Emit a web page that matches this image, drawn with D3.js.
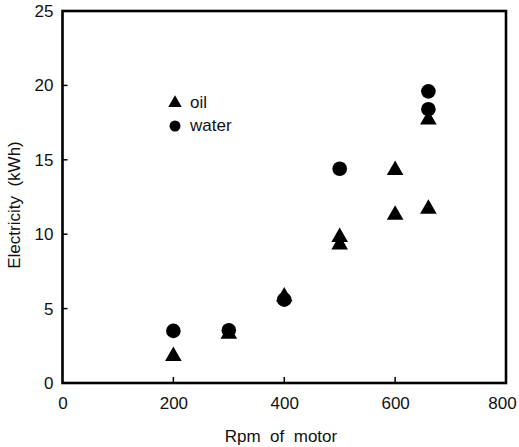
<!DOCTYPE html>
<html>
<head>
<meta charset="utf-8">
<script src="https://cdn.jsdelivr.net/npm/d3@7"></script>
<style>
  html, body { margin: 0; padding: 0; background: #fff; }
  svg { display: block; }
  text { font-family: "Liberation Sans", Arial, Helvetica, sans-serif; fill: #111; }
</style>
</head>
<body>
<svg id="chart" width="519" height="447"></svg>
<script>
// Electricity use vs. motor speed, two coolant types
const oilRpm   = [200, 300, 400, 500, 500, 600, 600, 660, 660];
const oilKwh   = [1.8, 3.3, 5.8, 9.3, 9.8, 14.3, 11.3, 17.7, 11.7];
const waterRpm = [200, 300, 400, 500, 660, 660];
const waterKwh = [3.5, 3.55, 5.6, 14.4, 19.6, 18.4];
const xTicks = [0, 200, 400, 600, 800];
const yTicks = [0, 5, 10, 15, 20, 25];
const seriesNames = ["oil", "water"];

const svg = d3.select("#chart");
const m = { left: 62.5, right: 506, top: 11, bottom: 383 };

const x = d3.scaleLinear().domain([0, 800]).range([m.left, m.right]);
const y = d3.scaleLinear().domain([0, 25]).range([m.bottom, m.top]);

const font = "Liberation Sans, Arial, sans-serif";

// frame
svg.append("rect")
  .attr("x", m.left).attr("y", m.top)
  .attr("width", m.right - m.left).attr("height", m.bottom - m.top)
  .attr("fill", "none").attr("stroke", "#000").attr("stroke-width", 2.6);

// x axis: inward ticks, labels below
const xAxis = d3.axisBottom(x).tickValues(xTicks).tickSize(0).tickPadding(14);
const gx = svg.append("g").attr("transform", `translate(0,${m.bottom})`).call(xAxis);
gx.select(".domain").remove();
gx.selectAll("text").attr("font-size", 17).style("font-family", font).attr("fill", "#111");
// keep the last label inside the canvas
gx.selectAll(".tick").filter(d => d === 800).select("text").attr("dx", -4);
svg.append("g").selectAll("line")
  .data(xTicks.filter(d => d > 0 && d < 800)).join("line")
  .attr("x1", d => x(d)).attr("x2", d => x(d))
  .attr("y1", m.bottom).attr("y2", m.bottom - 6)
  .attr("stroke", "#000").attr("stroke-width", 1.5);

// y axis: inward ticks, labels left
const yAxis = d3.axisLeft(y).tickValues(yTicks).tickSize(0).tickPadding(9);
const gy = svg.append("g").attr("transform", `translate(${m.left},0)`).call(yAxis);
gy.select(".domain").remove();
gy.selectAll("text").attr("font-size", 17).style("font-family", font).attr("fill", "#111");
svg.append("g").selectAll("line")
  .data(yTicks.filter(d => d > 0 && d < 25)).join("line")
  .attr("x1", m.left).attr("x2", m.left + 5)
  .attr("y1", d => y(d)).attr("y2", d => y(d))
  .attr("stroke", "#000").attr("stroke-width", 1.5);

// axis titles
svg.append("text")
  .attr("x", 281).attr("y", 442)
  .attr("text-anchor", "middle").attr("font-size", 17)
  .attr("xml:space", "preserve")
  .text("Rpm  of  motor");
svg.append("text")
  .attr("transform", `translate(20,${(m.top + m.bottom) / 2 + 8}) rotate(-90)`)
  .attr("text-anchor", "middle").attr("font-size", 17)
  .attr("xml:space", "preserve")
  .text("Electricity  (kWh)");

const tri = d3.symbol().type(d3.symbolTriangle).size(120);
const triSmall = d3.symbol().type(d3.symbolTriangle).size(80);

// oil points
svg.append("g").selectAll("path")
  .data(oilRpm.map((r, i) => [r, oilKwh[i]])).join("path")
  .attr("d", tri)
  .attr("transform", d => `translate(${x(d[0])},${y(d[1])})`)
  .attr("fill", "#000");

// water points
svg.append("g").selectAll("circle")
  .data(waterRpm.map((r, i) => [r, waterKwh[i]])).join("circle")
  .attr("cx", d => x(d[0])).attr("cy", d => y(d[1]))
  .attr("r", 7.3).attr("fill", "#000");

// legend
const lg = svg.append("g").attr("transform", "translate(175,103)");
lg.append("path").attr("d", triSmall).attr("fill", "#000");
lg.append("circle").attr("cx", 0).attr("cy", 23).attr("r", 5.5).attr("fill", "#000");
lg.selectAll("text").data(seriesNames).join("text")
  .attr("x", 15).attr("y", (d, i) => 5 + i * 23)
  .attr("font-size", 17).text(d => d);
</script>
</body>
</html>
